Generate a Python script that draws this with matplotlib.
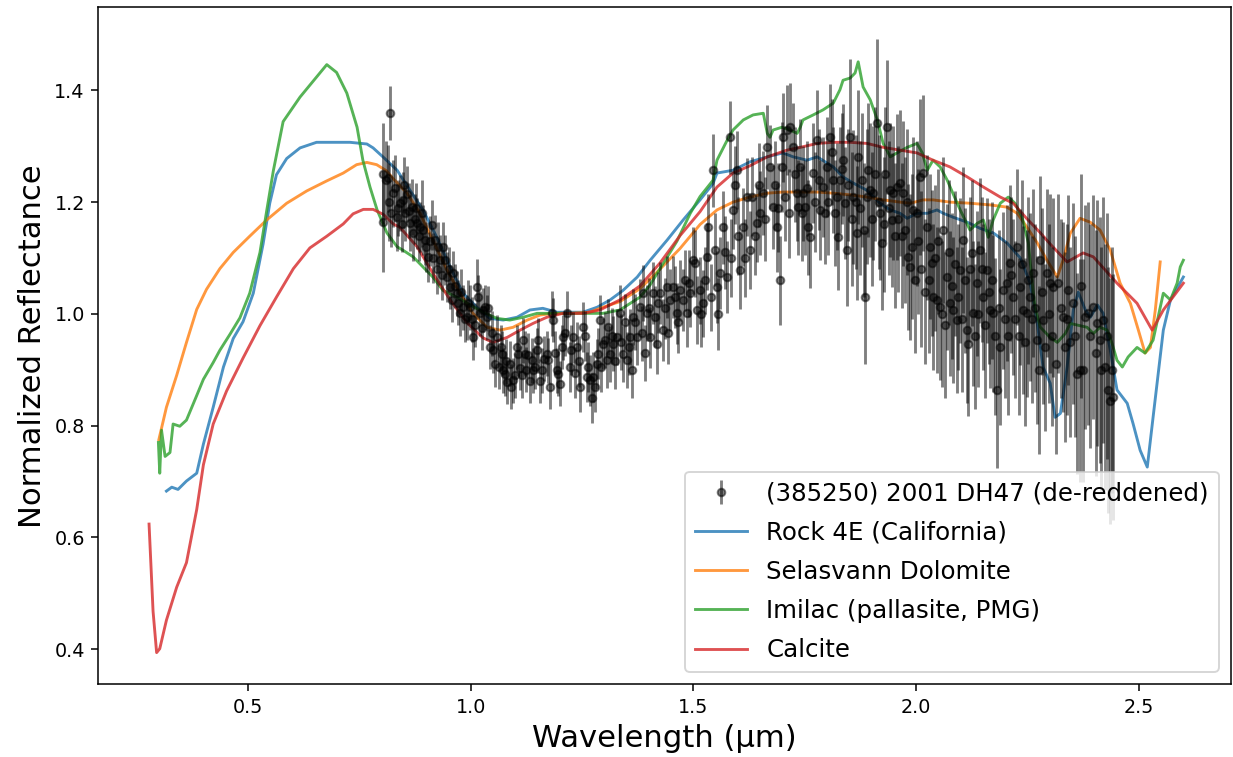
import numpy as np ; import pandas as pd ; import matplotlib.pyplot as plt

# spectre de l'asteroide (385250) 2001 DH47 + spectres de laboratoire

ast_wl = [0.804, 0.804, 0.809, 0.814, 0.819, 0.826, 0.834, 0.841, 0.848, 0.853, 0.858, 0.864, 0.868, 0.874, 0.880,
          0.886, 0.891, 0.897, 0.904, 0.913, 0.920, 0.927, 0.931, 0.942, 0.947, 0.954, 0.958, 0.960, 0.969, 0.976,
          0.983, 0.992, 0.999, 1.005, 1.014, 1.021, 1.028, 1.032, 1.037, 1.043, 1.050, 1.059, 1.070, 1.073, 1.077,
          1.082, 1.088, 1.095, 1.104, 1.106, 1.111, 1.118, 1.122, 1.129, 1.138, 1.140, 1.149, 1.151, 1.160, 1.171,
          1.174, 1.183, 1.185, 1.194, 1.196, 1.205, 1.207, 1.216, 1.230, 1.239, 1.246, 1.252, 1.261, 1.268, 1.275,
          1.284, 1.286, 1.290, 1.297, 1.306, 1.308, 1.313, 1.320, 1.329, 1.335, 1.342, 1.351, 1.358, 1.365, 1.374,
          1.380, 1.387, 1.396, 1.403, 1.409, 1.418, 1.425, 1.432, 1.441, 1.448, 1.454, 1.463, 1.470, 1.477, 1.486,
          1.493, 1.499, 1.508, 1.515, 1.522, 1.531, 1.533, 1.544, 1.553, 1.560, 1.567, 1.576, 1.582, 1.589, 1.598,
          1.605, 1.612, 1.621, 1.627, 1.643, 1.650, 1.657, 1.666, 1.672, 1.679, 1.688, 1.695, 1.699, 1.701, 1.710,
          1.717, 1.724, 1.733, 1.735, 1.740, 1.746, 1.751, 1.758, 1.762, 1.769, 1.778, 1.785, 1.791, 1.800, 1.807,
          1.814, 1.818, 1.825, 1.829, 1.836, 1.841, 1.845, 1.852, 1.859, 1.868, 1.870, 1.879, 1.886, 1.892, 1.897,
          1.904, 1.913, 1.919, 1.924, 1.935, 1.942, 1.946, 1.949, 1.957, 1.964, 1.971, 1.975, 1.982, 1.987, 1.993,
          2.002, 2.009, 2.016, 2.025, 2.032, 2.036, 2.038, 2.047, 2.054, 2.061, 2.070, 2.076, 2.083, 2.092, 2.099,
          2.106, 2.115, 2.117, 2.126, 2.128, 2.137, 2.144, 2.151, 2.160, 2.166, 2.173, 2.182, 2.189, 2.195, 2.204,
          2.211, 2.218, 2.227, 2.234, 2.240, 2.249, 2.256, 2.263, 2.272, 2.279, 2.285, 2.294, 2.301, 2.308, 2.319,
          2.330, 2.335, 2.342, 2.353, 2.362, 2.368, 2.375, 2.380, 2.386, 2.398, 2.407, 2.413, 2.420, 2.425, 2.431,
          2.436, 2.442,
          # points intermediaires
          0.816, 0.822, 0.830, 0.838, 0.845, 0.851, 0.861, 0.871, 0.877, 0.883, 0.894, 0.900, 0.908, 0.916, 0.924,
          0.935, 0.938, 0.951, 0.965, 0.972, 0.979, 0.988, 0.995, 1.002, 1.010, 1.017, 1.025, 1.040, 1.047, 1.054,
          1.064, 1.067, 1.079, 1.091, 1.100, 1.115, 1.125, 1.133, 1.145, 1.156, 1.165, 1.178, 1.190, 1.200, 1.212,
          1.222, 1.226, 1.235, 1.243, 1.256, 1.264, 1.272, 1.280, 1.293, 1.302, 1.317, 1.325, 1.338, 1.346, 1.355,
          1.362, 1.370, 1.384, 1.392, 1.400, 1.413, 1.421, 1.436, 1.444, 1.458, 1.466, 1.481, 1.490, 1.504, 1.518,
          1.527, 1.540, 1.549, 1.556, 1.571, 1.585, 1.594, 1.601, 1.616, 1.632, 1.638, 1.647, 1.661, 1.684, 1.691,
          1.705, 1.714, 1.728, 1.744, 1.755, 1.773, 1.782, 1.796, 1.803, 1.811, 1.822, 1.833, 1.848, 1.856, 1.864,
          1.875, 1.883, 1.889, 1.901, 1.908, 1.916, 1.928, 1.931, 1.939, 1.953, 1.960, 1.968, 1.979, 1.990, 1.997,
          2.005, 2.012, 2.020, 2.028, 2.043, 2.050, 2.058, 2.066, 2.073, 2.080, 2.088, 2.095, 2.103, 2.110, 2.121,
          2.133, 2.140, 2.148, 2.155, 2.163, 2.170, 2.178, 2.186, 2.199, 2.207, 2.214, 2.222, 2.230, 2.237, 2.245,
          2.252, 2.260, 2.268, 2.276, 2.282, 2.290, 2.298, 2.305, 2.313, 2.325, 2.338, 2.346, 2.357, 2.371, 2.391,
          2.403, 2.416, 2.428, 2.439]
ast_refl = [1.251, 1.165, 1.240, 1.243, 1.360, 1.216, 1.173, 1.198, 1.204, 1.180, 1.215, 1.162, 1.191, 1.170, 1.162,
            1.155, 1.180, 1.132, 1.102, 1.159, 1.132, 1.120, 1.096, 1.096, 1.066, 1.048, 1.025, 1.073, 1.037, 1.001,
            1.012, 0.994, 1.012, 0.958, 1.048, 1.001, 1.007, 1.012, 0.994, 0.941, 0.935, 0.958, 0.929, 0.899, 0.893,
            0.878, 0.911, 0.881, 0.941, 0.929, 0.903, 0.953, 0.929, 0.926, 0.917, 0.899, 0.935, 0.953, 0.899, 0.929,
            0.917, 1.001, 0.989, 0.899, 0.893, 0.941, 0.958, 1.001, 0.958, 0.941, 0.869, 0.976, 0.887, 0.881, 0.887,
            0.911, 0.929, 0.989, 0.947, 0.917, 0.976, 0.929, 0.947, 0.958, 1.001, 0.929, 0.917, 0.958, 0.994, 0.958,
            1.012, 1.037, 1.001, 0.958, 1.037, 0.947, 1.037, 0.971, 1.048, 1.025, 1.048, 1.001, 1.042, 1.025, 1.001,
            1.037, 1.096, 1.007, 1.042, 1.019, 1.102, 1.155, 1.257, 1.048, 1.073, 1.155, 1.066, 1.316, 1.186, 1.257,
            1.078, 1.155, 1.209, 1.114, 1.162, 1.180, 1.216, 1.298, 1.263, 1.191, 1.155, 1.060, 1.263, 1.316, 1.329,
            1.334, 1.298, 1.216, 1.191, 1.263, 1.216, 1.191, 1.155, 1.137, 1.252, 1.311, 1.186, 1.227, 1.263, 1.316,
            1.239, 1.180, 1.137, 1.239, 1.275, 1.198, 1.114, 1.316, 1.209, 1.145, 1.281, 1.239, 1.030, 1.257, 1.221,
            1.216, 1.341, 1.180, 1.127, 1.334, 1.221, 1.168, 1.216, 1.227, 1.234, 1.216, 1.150, 1.102, 1.084, 1.186,
            1.180, 1.245, 1.252, 1.155, 1.120, 1.091, 1.030, 1.025, 1.012, 1.150, 1.066, 1.019, 1.007, 0.989, 1.078,
            1.132, 0.971, 0.947, 1.109, 1.001, 1.055, 1.114, 1.030, 1.078, 1.007, 1.001, 0.864, 0.941, 1.042, 1.055,
            1.091, 1.030, 1.120, 1.048, 1.007, 1.001, 1.030, 1.073, 0.953, 1.096, 0.989, 1.073, 1.055, 1.048, 1.055,
            0.994, 0.941, 1.042, 1.019, 0.893, 0.899, 0.899, 0.994, 1.001, 1.012, 0.983, 0.953, 0.989, 0.905, 0.864,
            0.845, 0.851,
            1.200, 1.180, 1.225, 1.190, 1.160, 1.230, 1.185, 1.145, 1.190, 1.140, 1.150, 1.120, 1.130, 1.100, 1.080,
            1.070, 1.120, 1.080, 1.050, 1.020, 1.040, 0.990, 1.020, 0.990, 0.980, 1.030, 0.975, 1.010, 0.965, 0.910,
            0.905, 0.940, 0.915, 0.870, 0.890, 0.890, 0.900, 0.880, 0.905, 0.880, 0.920, 0.870, 0.930, 0.875, 0.965,
            0.905, 0.935, 0.895, 0.915, 0.960, 0.905, 0.850, 0.870, 0.905, 0.953, 0.960, 0.915, 0.950, 0.985, 0.940,
            0.900, 0.985, 0.965, 0.930, 1.010, 0.995, 1.020, 1.010, 0.965, 1.030, 0.985, 1.060, 1.055, 1.091, 1.000,
            1.060, 1.030, 1.115, 1.000, 1.110, 1.100, 1.230, 1.140, 1.100, 1.210, 1.140, 1.230, 1.170, 1.230, 1.190,
            1.210, 1.180, 1.250, 1.180, 1.225, 1.200, 1.240, 1.180, 1.200, 1.290, 1.210, 1.260, 1.230, 1.170, 1.200,
            1.190, 1.150, 1.210, 1.170, 1.250, 1.200, 1.160, 1.250, 1.190, 1.140, 1.170, 1.140, 1.200, 1.120, 1.060,
            1.130, 1.080, 1.040, 1.060, 1.100, 1.130, 1.000, 0.980, 1.110, 1.050, 1.090, 1.030, 0.990, 1.060, 1.080,
            0.960, 1.000, 1.080, 0.980, 1.040, 1.060, 0.960, 1.010, 0.990, 0.960, 1.070, 0.990, 0.960, 1.090, 0.950,
            1.060, 0.990, 1.010, 0.900, 1.040, 0.940, 1.000, 0.960, 0.910, 1.010, 0.990, 0.950, 0.960, 1.050, 0.960,
            0.930, 0.900, 0.960, 0.900]
ast_err = [0.09, 0.09, 0.07, 0.06, 0.048, 0.06, 0.06, 0.05, 0.05, 0.05, 0.05, 0.05, 0.05, 0.045, 0.045,
           0.045, 0.06, 0.045, 0.045, 0.045, 0.045, 0.045, 0.045, 0.045, 0.045, 0.04, 0.04, 0.04, 0.04, 0.04,
           0.04, 0.04, 0.04, 0.04, 0.05, 0.04, 0.04, 0.04, 0.04, 0.04, 0.04, 0.04, 0.04, 0.04, 0.04,
           0.04, 0.04, 0.04, 0.04, 0.04, 0.04, 0.04, 0.04, 0.04, 0.04, 0.04, 0.04, 0.04, 0.04, 0.04,
           0.04, 0.04, 0.04, 0.04, 0.04, 0.04, 0.04, 0.04, 0.045, 0.045, 0.045, 0.045, 0.045, 0.045, 0.045,
           0.045, 0.045, 0.045, 0.045, 0.05, 0.05, 0.05, 0.05, 0.05, 0.05, 0.05, 0.05, 0.05, 0.05, 0.05,
           0.05, 0.05, 0.05, 0.055, 0.055, 0.055, 0.055, 0.055, 0.055, 0.055, 0.055, 0.055, 0.055, 0.055, 0.06,
           0.06, 0.06, 0.06, 0.06, 0.06, 0.06, 0.06, 0.065, 0.065, 0.065, 0.065, 0.065, 0.065, 0.07, 0.07,
           0.07, 0.07, 0.07, 0.07, 0.07, 0.075, 0.075, 0.075, 0.075, 0.075, 0.08, 0.08, 0.08, 0.08, 0.08,
           0.08, 0.08, 0.085, 0.085, 0.085, 0.085, 0.085, 0.085, 0.09, 0.09, 0.09, 0.09, 0.09, 0.09, 0.095,
           0.095, 0.095, 0.095, 0.095, 0.10, 0.10, 0.10, 0.14, 0.12, 0.12, 0.12, 0.12, 0.12, 0.12, 0.12,
           0.12, 0.15, 0.12, 0.12, 0.12, 0.12, 0.12, 0.12, 0.13, 0.13, 0.13, 0.13, 0.13, 0.13, 0.13,
           0.13, 0.14, 0.14, 0.13, 0.13, 0.13, 0.13, 0.13, 0.13, 0.13, 0.13, 0.13, 0.13, 0.13, 0.13,
           0.13, 0.13, 0.13, 0.13, 0.13, 0.13, 0.13, 0.13, 0.13, 0.14, 0.14, 0.14, 0.14, 0.14, 0.14,
           0.14, 0.14, 0.14, 0.14, 0.15, 0.15, 0.15, 0.15, 0.15, 0.15, 0.15, 0.15, 0.16, 0.16, 0.16,
           0.17, 0.17, 0.17, 0.18, 0.18, 0.2, 0.2, 0.2, 0.2, 0.2, 0.22, 0.22, 0.22, 0.22, 0.22,
           0.22, 0.22,
           0.07, 0.06, 0.06, 0.05, 0.05, 0.05, 0.05, 0.05, 0.045, 0.045, 0.045, 0.045, 0.045, 0.045, 0.045,
           0.045, 0.045, 0.04, 0.04, 0.04, 0.04, 0.04, 0.04, 0.04, 0.04, 0.04, 0.04, 0.04, 0.04, 0.04,
           0.04, 0.04, 0.04, 0.04, 0.04, 0.04, 0.04, 0.04, 0.04, 0.04, 0.04, 0.04, 0.04, 0.04, 0.04,
           0.045, 0.045, 0.045, 0.045, 0.045, 0.045, 0.045, 0.045, 0.045, 0.05, 0.05, 0.05, 0.05, 0.05, 0.05,
           0.05, 0.05, 0.05, 0.05, 0.055, 0.055, 0.055, 0.055, 0.055, 0.055, 0.055, 0.055, 0.06, 0.06, 0.06,
           0.06, 0.06, 0.065, 0.065, 0.065, 0.07, 0.07, 0.07, 0.07, 0.07, 0.07, 0.075, 0.075, 0.08, 0.08,
           0.08, 0.08, 0.085, 0.085, 0.085, 0.09, 0.09, 0.09, 0.095, 0.095, 0.095, 0.10, 0.10, 0.12, 0.12,
           0.12, 0.12, 0.12, 0.12, 0.12, 0.12, 0.12, 0.12, 0.12, 0.13, 0.13, 0.13, 0.13, 0.13, 0.13,
           0.13, 0.14, 0.13, 0.13, 0.13, 0.13, 0.13, 0.13, 0.13, 0.13, 0.13, 0.13, 0.13, 0.13, 0.13,
           0.13, 0.13, 0.13, 0.13, 0.13, 0.14, 0.14, 0.14, 0.14, 0.14, 0.14, 0.14, 0.14, 0.15, 0.15,
           0.15, 0.15, 0.15, 0.15, 0.15, 0.15, 0.16, 0.16, 0.16, 0.16, 0.17, 0.17, 0.18, 0.2, 0.2,
           0.22, 0.22, 0.22, 0.22]

rock_wl = [0.317, 0.329, 0.343, 0.362, 0.385, 0.400, 0.422, 0.445, 0.467, 0.489, 0.512, 0.534, 0.549, 0.564, 0.587,
           0.617, 0.654, 0.692, 0.729, 0.767, 0.781, 0.803, 0.835, 0.864, 0.893, 0.924, 0.954, 0.983, 1.014, 1.043,
           1.073, 1.104, 1.133, 1.162, 1.194, 1.223, 1.252, 1.284, 1.313, 1.342, 1.374, 1.403, 1.441, 1.477, 1.515,
           1.544, 1.553, 1.589, 1.627, 1.666, 1.701, 1.724, 1.755, 1.778, 1.814, 1.836, 1.859, 1.890, 1.919, 1.942,
           1.964, 1.980, 2.002, 2.025, 2.047, 2.061, 2.083, 2.115, 2.144, 2.173, 2.204, 2.234, 2.256, 2.272, 2.285,
           2.301, 2.312, 2.324, 2.339, 2.353, 2.364, 2.380, 2.391, 2.407, 2.420, 2.436, 2.451, 2.474, 2.487, 2.503,
           2.519, 2.532, 2.555, 2.571, 2.600]
rock_refl = [0.683, 0.690, 0.686, 0.701, 0.715, 0.767, 0.833, 0.905, 0.956, 0.986, 1.037, 1.125, 1.198, 1.249, 1.278,
             1.297, 1.307, 1.307, 1.307, 1.304, 1.297, 1.281, 1.257, 1.221, 1.186, 1.137, 1.084, 1.037, 1.012, 0.992,
             0.989, 0.994, 1.007, 1.010, 1.003, 1.003, 1.003, 1.012, 1.025, 1.042, 1.066, 1.096, 1.132, 1.168, 1.204,
             1.233, 1.252, 1.257, 1.272, 1.281, 1.288, 1.281, 1.275, 1.281, 1.263, 1.245, 1.234, 1.221, 1.198, 1.186,
             1.180, 1.171, 1.180, 1.180, 1.186, 1.180, 1.173, 1.164, 1.153, 1.145, 1.127, 1.100, 1.055, 0.983, 0.905,
             0.876, 0.815, 0.822, 0.905, 1.007, 1.039, 1.007, 0.994, 1.016, 1.001, 0.935, 0.864, 0.840, 0.804, 0.756,
             0.726, 0.815, 0.971, 1.025, 1.066]

dolo_wl = [0.300, 0.317, 0.340, 0.362, 0.385, 0.407, 0.437, 0.467, 0.504, 0.542, 0.587, 0.632, 0.677, 0.714, 0.744,
           0.767, 0.789, 0.811, 0.826, 0.857, 0.886, 0.915, 0.947, 0.976, 1.005, 1.037, 1.066, 1.095, 1.127, 1.156,
           1.185, 1.223, 1.268, 1.297, 1.335, 1.380, 1.425, 1.470, 1.515, 1.553, 1.589, 1.627, 1.666, 1.701, 1.740,
           1.778, 1.814, 1.852, 1.890, 1.926, 1.964, 1.987, 2.016, 2.038, 2.076, 2.121, 2.166, 2.204, 2.227, 2.249,
           2.272, 2.294, 2.317, 2.330, 2.346, 2.368, 2.391, 2.413, 2.436, 2.458, 2.481, 2.499, 2.514, 2.526, 2.537,
           2.548]
dolo_refl = [0.775, 0.833, 0.890, 0.949, 1.008, 1.044, 1.081, 1.110, 1.139, 1.168, 1.198, 1.220, 1.238, 1.252, 1.267,
             1.271, 1.267, 1.256, 1.242, 1.216, 1.180, 1.132, 1.078, 1.037, 1.001, 0.976, 0.971, 0.976, 0.989, 0.998,
             1.001, 1.001, 1.003, 1.012, 1.022, 1.045, 1.080, 1.117, 1.160, 1.186, 1.200, 1.209, 1.216, 1.218, 1.218,
             1.218, 1.216, 1.213, 1.209, 1.204, 1.200, 1.198, 1.204, 1.204, 1.200, 1.198, 1.195, 1.191, 1.180, 1.155,
             1.127, 1.096, 1.066, 1.096, 1.144, 1.171, 1.164, 1.150, 1.114, 1.055, 1.019, 0.971, 0.930, 0.940, 1.007,
             1.093]

imil_wl = [0.299, 0.302, 0.306, 0.314, 0.325, 0.332, 0.347, 0.362, 0.385, 0.400, 0.422, 0.437, 0.460, 0.482, 0.504,
           0.527, 0.542, 0.557, 0.579, 0.617, 0.647, 0.677, 0.699, 0.722, 0.745, 0.758, 0.774, 0.790, 0.812, 0.835,
           0.848, 0.871, 0.893, 0.915, 0.938, 0.969, 0.999, 1.028, 1.059, 1.088, 1.118, 1.149, 1.178, 1.223, 1.252,
           1.297, 1.335, 1.380, 1.403, 1.432, 1.463, 1.493, 1.515, 1.544, 1.553, 1.576, 1.589, 1.612, 1.634, 1.657,
           1.666, 1.672, 1.679, 1.699, 1.717, 1.733, 1.740, 1.746, 1.769, 1.791, 1.814, 1.829, 1.836, 1.852, 1.863,
           1.870, 1.881, 1.897, 1.913, 1.926, 1.942, 1.957, 1.980, 2.002, 2.014, 2.025, 2.038, 2.054, 2.070, 2.083,
           2.099, 2.121, 2.137, 2.151, 2.162, 2.173, 2.189, 2.207, 2.222, 2.238, 2.252, 2.261, 2.267, 2.279, 2.301,
           2.317, 2.335, 2.346, 2.362, 2.384, 2.398, 2.413, 2.429, 2.440, 2.451, 2.463, 2.476, 2.496, 2.514, 2.532,
           2.555, 2.571, 2.586, 2.593, 2.600]
imil_refl = [0.770, 0.715, 0.792, 0.745, 0.752, 0.803, 0.799, 0.810, 0.854, 0.883, 0.913, 0.935, 0.964, 0.993, 1.037,
             1.110, 1.184, 1.256, 1.344, 1.388, 1.417, 1.446, 1.432, 1.395, 1.334, 1.275, 1.227, 1.186, 1.145, 1.120,
             1.114, 1.102, 1.084, 1.066, 1.042, 1.030, 1.016, 1.003, 0.992, 0.989, 0.994, 1.001, 1.001, 1.001, 1.001,
             1.001, 1.007, 1.030, 1.052, 1.090, 1.130, 1.180, 1.210, 1.239, 1.275, 1.311, 1.329, 1.347, 1.356, 1.359,
             1.323, 1.316, 1.329, 1.334, 1.329, 1.323, 1.334, 1.347, 1.356, 1.365, 1.377, 1.401, 1.418, 1.422, 1.431,
             1.451, 1.406, 1.383, 1.347, 1.305, 1.281, 1.288, 1.298, 1.305, 1.288, 1.257, 1.275, 1.263, 1.239, 1.215,
             1.186, 1.150, 1.162, 1.168, 1.137, 1.168, 1.198, 1.209, 1.198, 1.173, 1.127, 1.055, 1.012, 0.976, 0.958,
             0.949, 0.965, 0.983, 0.980, 0.976, 0.965, 0.976, 0.971, 0.947, 0.917, 0.905, 0.923, 0.940, 0.930, 0.953,
             1.037, 1.025, 1.055, 1.084, 1.096]

calc_wl = [0.278, 0.287, 0.295, 0.302, 0.317, 0.340, 0.362, 0.385, 0.400, 0.422, 0.452, 0.489, 0.527, 0.564, 0.602,
           0.639, 0.677, 0.714, 0.736, 0.759, 0.781, 0.804, 0.826, 0.841, 0.880, 0.915, 0.954, 0.992, 1.028, 1.050,
           1.082, 1.111, 1.140, 1.171, 1.207, 1.252, 1.290, 1.335, 1.380, 1.425, 1.470, 1.515, 1.553, 1.589, 1.627,
           1.666, 1.710, 1.740, 1.778, 1.814, 1.852, 1.890, 1.926, 1.964, 2.002, 2.038, 2.076, 2.115, 2.151, 2.189,
           2.218, 2.249, 2.279, 2.301, 2.339, 2.375, 2.398, 2.451, 2.496, 2.530, 2.555, 2.600]
calc_refl = [0.624, 0.468, 0.394, 0.401, 0.452, 0.511, 0.555, 0.650, 0.730, 0.803, 0.862, 0.921, 0.979, 1.030, 1.081,
             1.118, 1.139, 1.161, 1.179, 1.187, 1.187, 1.178, 1.161, 1.155, 1.120, 1.073, 1.025, 0.984, 0.957, 0.949,
             0.958, 0.971, 0.983, 0.994, 1.001, 1.001, 1.007, 1.025, 1.050, 1.091, 1.140, 1.183, 1.227, 1.252, 1.265,
             1.281, 1.293, 1.298, 1.305, 1.307, 1.307, 1.305, 1.298, 1.293, 1.288, 1.275, 1.263, 1.245, 1.227, 1.209,
             1.198, 1.170, 1.145, 1.125, 1.093, 1.109, 1.102, 1.055, 1.019, 0.971, 1.007, 1.055]

spectres = [(rock_wl, rock_refl, 'Rock 4E (California)', 'tab:blue'),
            (dolo_wl, dolo_refl, 'Selasvann Dolomite', 'tab:orange'),
            (imil_wl, imil_refl, 'Imilac (pallasite, PMG)', 'tab:green'),
            (calc_wl, calc_refl, 'Calcite', 'tab:red')]

fig = plt.figure(figsize=(1233/138, 757/138), dpi=138)
ax = fig.add_subplot(111)
fig.subplots_adjust(left=0.0797, right=0.9984, bottom=0.096, top=0.9904)

handles = []
for wl, refl, nom, col in spectres:
    l, = ax.plot(wl, refl, color=col, alpha=0.8, lw=1.5, label=nom)
    handles.append(l)

eb = ax.errorbar(ast_wl, ast_refl, yerr=ast_err, fmt='o', color='k', alpha=0.5, markersize=4,
                 label='(385250) 2001 DH47 (de-reddened)')

ax.set_xlim(0.164, 2.707) ; ax.set_ylim(0.3373, 1.5486)
ax.set_xticks([0.5, 1.0, 1.5, 2.0, 2.5]) ; ax.set_yticks([0.4, 0.6, 0.8, 1.0, 1.2, 1.4])
ax.tick_params(labelsize=10)
ax.set_xlabel('Wavelength (µm)', fontsize=16) ; ax.set_ylabel('Normalized Reflectance', fontsize=16)
ax.legend([eb] + handles, [eb.get_label()] + [h.get_label() for h in handles], loc='lower right',
          fontsize=12.8, labelspacing=0.62, handlelength=2.1)

plt.savefig('out.png', dpi=138)
